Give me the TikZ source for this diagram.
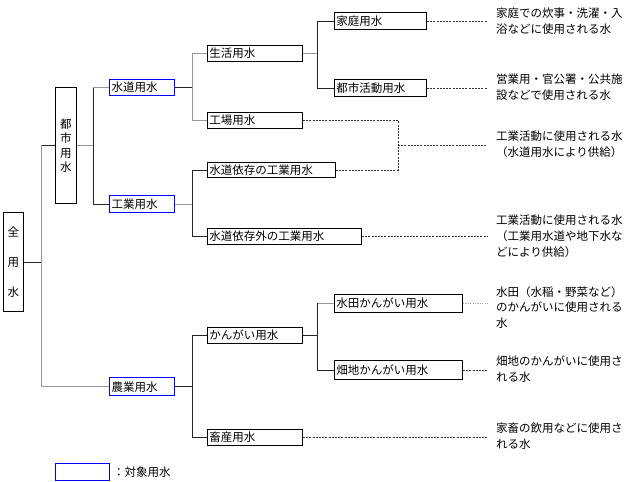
\documentclass[tikz,border=0pt]{standalone}
\usepackage{fontspec}
\setmainfont{Noto Sans CJK JP}
\begin{document}
\begin{tikzpicture}[x=1pt,y=-1pt,
  box/.style={draw=black,line width=0.9pt,anchor=north west,inner xsep=2pt,inner ysep=0pt,align=left,font=\fontsize{11.5}{14}\selectfont},
  bluebox/.style={box,draw=blue,line width=1.3pt},
  vbox/.style={draw=black,line width=0.9pt,anchor=north west,inner sep=0pt,align=center},
  desc/.style={anchor=north west,inner sep=0pt,align=left,font=\fontsize{11.5}{16}\selectfont},
  dk/.style={draw=black!85,line width=0.8pt},
  lt/.style={draw=black!40,line width=0.9pt},
  dsh/.style={draw=black!80,line width=0.6pt,dash pattern=on 2pt off 1.2pt},
  dot/.style={draw=black!35,line width=0.8pt,dash pattern=on 1.2pt off 1.2pt}]
\useasboundingbox[fill=white] (0,0) rectangle (640,482);

% vertical boxes
\node[vbox,minimum width=20pt,minimum height=99pt,font=\fontsize{11.5}{30}\selectfont] (all) at (3,212) {全\\用\\水};
\node[vbox,minimum width=21pt,minimum height=116pt,font=\fontsize{11.5}{14.5}\selectfont] (toshi) at (55,87) {都\\市\\用\\水};

% level 2
\node[bluebox,text width=61pt,minimum height=16pt] (suido) at (109,79) {水道用水};
\node[bluebox,text width=61pt,minimum height=17pt] (kogyo) at (109,195) {工業用水};
\node[bluebox,text width=61pt,minimum height=18pt] (nogyo) at (109,377) {農業用水};

% level 3
\node[box,text width=91pt,minimum height=16pt] (seikatsu) at (207,45) {生活用水};
\node[box,text width=91pt,minimum height=16pt] (kojo) at (207,112) {工場用水};
\node[box,text width=124pt,minimum height=15pt] (izon) at (207,162) {水道依存の工業用水};
\node[box,text width=150pt,minimum height=16pt] (izongai) at (207,228) {水道依存外の工業用水};
\node[box,text width=91pt,minimum height=16pt] (kangai) at (207,327) {かんがい用水};
\node[box,text width=91pt,minimum height=16pt] (chikusan) at (207,429) {畜産用水};

% level 4
\node[box,text width=88pt,minimum height=17pt] (katei) at (334,12) {家庭用水};
\node[box,text width=88pt,minimum height=17pt] (toshikatsu) at (334,79) {都市活動用水};
\node[box,text width=124pt,minimum height=18pt] (suiden) at (334,294) {水田かんがい用水};
\node[box,text width=124pt,minimum height=19pt] (hatachi) at (334,360) {畑地かんがい用水};

% junction coordinates
\coordinate (j0) at (41,0);
\coordinate (j1) at (93,0);
\coordinate (j2) at (192,0);
\coordinate (j3) at (317,0);
\coordinate (jd) at (398,0);
\coordinate (jm) at (398,145);
\coordinate (e) at (487,0);

% tree connectors
\draw[dk] (all.east) -- (all.east -| j0);
\draw[dk] (j0 |- toshi.west) -- (toshi.west);
\draw[lt] (j0 |- toshi.west) -- (j0 |- nogyo.west) -- (nogyo.west);

\draw[lt] (toshi.east) -- (toshi.east -| j1);
\draw[dk] (j1 |- suido.west) -- (j1 |- kogyo.west) -- (kogyo.west);
\draw[lt] (j1 |- suido.west) -- (suido.west);

\draw[dk] (suido.east) -- (suido.east -| j2);
\draw[lt] (seikatsu.west) -- (j2 |- seikatsu.west) -- (j2 |- kojo.west) -- (kojo.west);

\draw[lt] (kogyo.east) -- (kogyo.east -| j2);
\draw[dk] (izon.west) -- (j2 |- izon.west) -- (j2 |- izongai.west) -- (izongai.west);

\draw[dk] (nogyo.east) -- (nogyo.east -| j2);
\draw[dk] (kangai.west) -- (j2 |- kangai.west) -- (j2 |- chikusan.west) -- (chikusan.west);

\draw[lt] (seikatsu.east) -- (seikatsu.east -| j3);
\draw[dk] (katei.west) -- (j3 |- katei.west) -- (j3 |- toshikatsu.west) -- (toshikatsu.west);

\draw[dk] (kangai.east) -- (kangai.east -| j3);
\draw[lt] (suiden.west) -- (j3 |- suiden.west);
\draw[dk] (j3 |- suiden.west) -- (j3 |- hatachi.west) -- (hatachi.west);

% dashed leaders
\draw[dsh] (katei.east) -- (katei.east -| e);
\draw[dsh] (toshikatsu.east) -- (toshikatsu.east -| e);
\draw[dsh] (kojo.east) -- (kojo.east -| jd) -- (izon.east -| jd) -- (izon.east);
\draw[dsh] (jm) -- (jm -| e);
\draw[dsh] (izongai.east) -- (izongai.east -| e);
\draw[dot] (suiden.east) -- (suiden.east -| e);
\draw[dsh] (hatachi.east) -- (hatachi.east -| e);
\draw[dsh] (chikusan.east) -- (chikusan.east -| e);

% descriptions
\node[desc] (d1) at (496,8) {家庭での炊事・洗濯・入\\浴などに使用される水};
\node[desc] (d2) at (496,74) {営業用・官公署・公共施\\設などで使用される水};
\node[desc] (d3) at (496,131) {工業活動に使用される水\\（水道用水により供給）};
\node[desc] (d4) at (496,215) {工業活動に使用される水\\（工業用水道や地下水な\\どにより供給）};
\node[desc,font=\fontsize{11.5}{15.5}\selectfont] (d5) at (496,286) {水田（水稲・野菜など）\\のかんがいに使用される\\水};
\node[desc] (d6) at (496,356) {畑地のかんがいに使用さ\\れる水};
\node[desc] (d7) at (496,423) {家畜の飲用などに使用さ\\れる水};

% legend
\node[bluebox,text width=50pt,minimum height=17pt] (leg) at (55,463) {};
\node[anchor=west,inner sep=0pt,font=\fontsize{11.5}{14}\selectfont] (legt) at (113,472) {：対象用水};
\end{tikzpicture}
\end{document}
